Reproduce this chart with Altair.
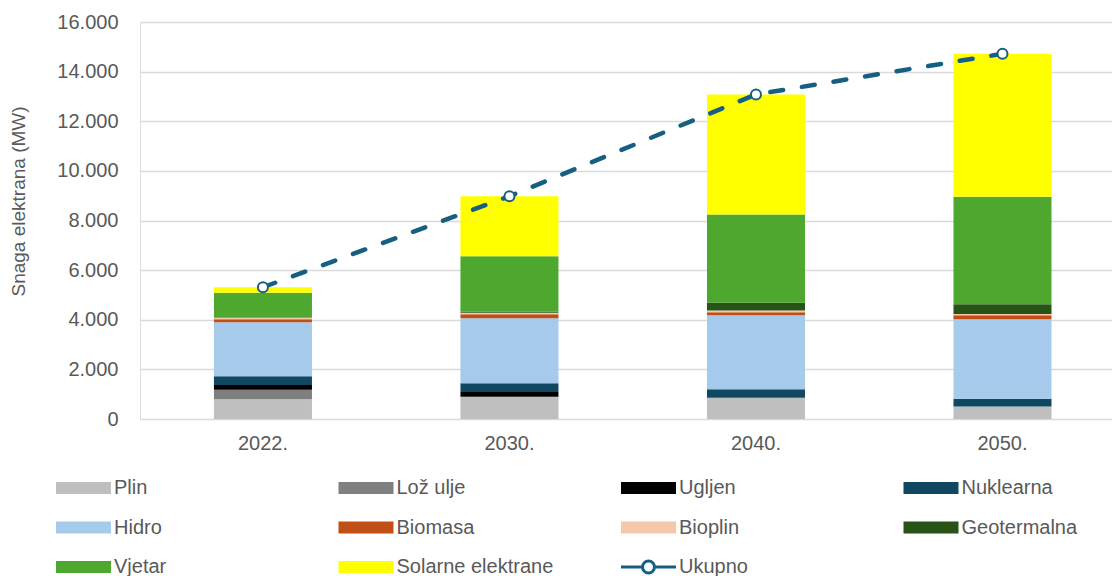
import altair as alt
import pandas as pd

years = ["2022.", "2030.", "2040.", "2050."]
sources = ["Plin", "Lož ulje", "Ugljen", "Nuklearna", "Hidro", "Biomasa",
           "Bioplin", "Geotermalna", "Vjetar", "Solarne elektrane"]
colors = ["#BFBFBF", "#7F7F7F", "#000000", "#104862", "#A6CAEC", "#C04F15",
          "#F7C7AC", "#275317", "#4EA72E", "#FFFF00"]

plin = [800, 900, 860, 500]
loz_ulje = [380, 0, 0, 0]
ugljen = [190, 190, 0, 0]
nuklearna = [350, 350, 340, 320]
hidro = [2180, 2620, 2980, 3200]
biomasa = [120, 160, 120, 160]
bioplin = [60, 60, 70, 50]
geotermalna = [0, 40, 320, 390]
vjetar = [1010, 2240, 3550, 4340]
solarne = [220, 2420, 4840, 5760]
ukupno = [5310, 8980, 13080, 14720]
y_ticks = [0, 2000, 4000, 6000, 8000, 10000, 12000, 14000, 16000]

series = [plin, loz_ulje, ugljen, nuklearna, hidro, biomasa, bioplin,
          geotermalna, vjetar, solarne]
rows = []
for i, (name, vals) in enumerate(zip(sources, series)):
    for y, v in zip(years, vals):
        rows.append({"year": y, "source": name, "value": v, "idx": i})
df = pd.DataFrame(rows)
line_df = pd.DataFrame({"year": years, "total": ukupno, "series": ["Ukupno"] * 4})

FONT = "Liberation Sans"
TXT = "#595959"
LINE_COL = "#156082"

x_enc = alt.X(
    "year:N", sort=years, title=None,
    scale=alt.Scale(paddingInner=0.6024, paddingOuter=0.2727, align=0.55),
    axis=alt.Axis(labelFontSize=20, labelColor=TXT, labelFont=FONT, ticks=False,
                  tickSize=0, domain=False, labelPadding=14, labelAngle=0),
)
y_axis = alt.Axis(
    values=y_ticks,
    labelExpr="replace(format(datum.value, ','), ',', '.')",
    title="Snaga elektrana (MW)", titleFont=FONT, titleFontSize=19,
    titleFontWeight="normal", titleColor=TXT, titlePadding=28, titleY=179,
    labelFont=FONT, labelFontSize=20, labelColor=TXT, labelPadding=22,
    ticks=False, tickSize=0, domain=False,
    grid=True, gridColor="#D9D9D9", gridWidth=1.3,
)
y_scale = alt.Scale(domain=[0, 16000], nice=False)

bars = alt.Chart(df).mark_bar().encode(
    x=x_enc,
    y=alt.Y("value:Q", stack="zero", scale=y_scale, axis=y_axis),
    color=alt.Color(
        "source:N",
        scale=alt.Scale(domain=sources, range=colors),
        legend=alt.Legend(
            title=None, orient="none", legendX=-66.5, legendY=456,
            direction="horizontal", columns=4, gridAlign="all",
            columnPadding=66.5, rowPadding=19.5,
            symbolType="M-4.583,-1H4.583V1H-4.583Z", symbolSize=144,
            symbolStrokeWidth=0, symbolOpacity=1,
            labelFont=FONT, labelFontSize=20, labelColor=TXT,
            labelOffset=20.5, padding=0, labelLimit=300,
        ),
    ),
    order=alt.Order("idx:Q", sort="ascending"),
)

stroke_legend = alt.Legend(
    title=None, orient="none", legendX=498.5, legendY=456 + 79,
    symbolType="M-4.583,0H-1M1,0H4.583M-1,0A1,1 0 1,1 1,0A1,1 0 1,1 -1,0Z",
    symbolSize=144, symbolStrokeWidth=3, symbolFillColor="white",
    labelFont=FONT, labelFontSize=20, labelColor=TXT,
    labelOffset=20.5, padding=0,
)
stroke_enc = alt.Stroke(
    "series:N", scale=alt.Scale(domain=["Ukupno"], range=[LINE_COL]),
    legend=stroke_legend,
)

line = alt.Chart(line_df).mark_line(
    strokeWidth=4.5, strokeDash=[13, 19], strokeCap="round"
).encode(
    x=x_enc,
    y=alt.Y("total:Q", scale=y_scale, axis=y_axis),
    stroke=stroke_enc,
)
points = alt.Chart(line_df).mark_point(
    filled=True, fill="white", size=100, strokeWidth=2, opacity=1
).encode(
    x=x_enc,
    y=alt.Y("total:Q", scale=y_scale, axis=y_axis),
    stroke=stroke_enc,
)

chart = alt.layer(bars, line, points).properties(
    width=972, height=397,
    autosize=alt.AutoSizeParams(type="none"),
    padding={"left": 140, "top": 22, "right": 0, "bottom": 157},
).configure_view(stroke=None).configure(background="white")

chart.save("out.html", embed_options={"renderer": "svg", "actions": False})
